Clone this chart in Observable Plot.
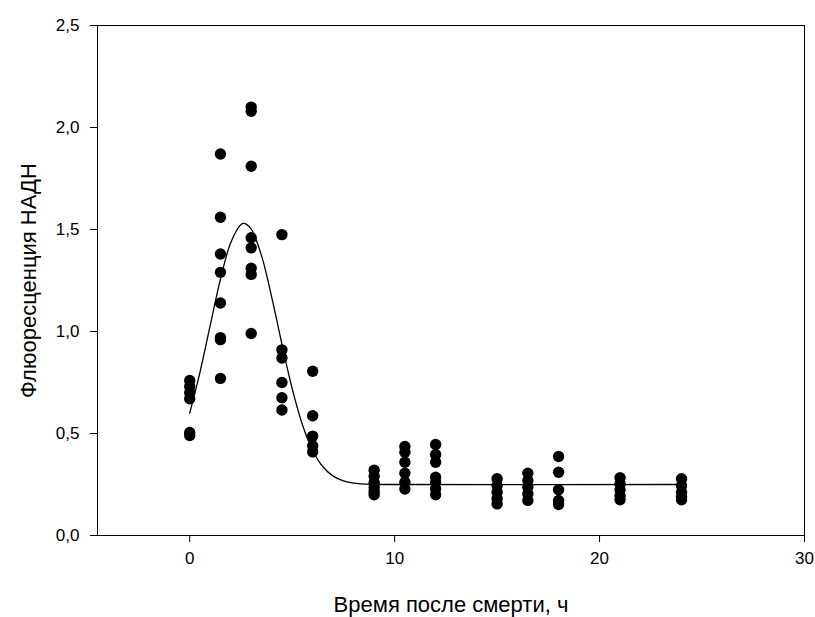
<!DOCTYPE html>
<html>
<head>
<meta charset="utf-8">
<script src="https://cdn.jsdelivr.net/npm/d3@7"></script>
<script src="https://cdn.jsdelivr.net/npm/@observablehq/plot@0.6"></script>
<style>
  html, body { margin: 0; padding: 0; background: #fff; }
  #chart { width: 815px; height: 617px; }
</style>
</head>
<body>
<div id="chart"></div>
<script>
// Measured points: time after death (h) and NADH fluorescence
const times = [0, 1.5, 3, 4.5, 6, 9, 10.5, 12, 15, 16.5, 18, 21, 24];
const values = [
  [0.76, 0.73, 0.70, 0.67, 0.505, 0.49],
  [1.87, 1.56, 1.38, 1.29, 1.14, 0.97, 0.96, 0.77],
  [2.10, 2.08, 1.81, 1.46, 1.41, 1.31, 1.28, 0.99],
  [1.475, 0.91, 0.87, 0.75, 0.675, 0.615],
  [0.805, 0.587, 0.487, 0.44, 0.41],
  [0.32, 0.29, 0.26, 0.235, 0.215, 0.20],
  [0.436, 0.408, 0.359, 0.305, 0.261, 0.228],
  [0.446, 0.397, 0.359, 0.286, 0.261, 0.229, 0.20],
  [0.278, 0.245, 0.212, 0.18, 0.155],
  [0.305, 0.27, 0.237, 0.204, 0.172],
  [0.387, 0.31, 0.224, 0.172, 0.152],
  [0.283, 0.253, 0.224, 0.195, 0.175],
  [0.278, 0.245, 0.212, 0.19, 0.175]
];

// Fitted curve
const curveX = [0, 0.5, 1, 1.5, 2, 2.5, 2.65, 3, 3.5, 4, 4.5, 5, 5.5, 6, 6.5, 7, 7.5, 8, 9, 10, 24];
const curveY = [0.60, 0.80, 1.03, 1.257, 1.435, 1.525, 1.53, 1.502, 1.373, 1.169, 0.938, 0.72, 0.543, 0.417, 0.337, 0.291, 0.268, 0.257, 0.251, 0.25, 0.25];

const xTicks = [0, 10, 20, 30];
const yTicks = [0, 0.5, 1.0, 1.5, 2.0, 2.5];
const xTitle = "Время после смерти, ч";
const yTitle = "Флюоресценция НАДН";

const points = times.flatMap((t, i) => values[i].map(v => ({t, v})));
const curve = curveX.map((x, i) => ({x, y: curveY[i]}));
const fmt = d => d.toFixed(1).replace(".", ",");

const chart = Plot.plot({
  width: 815,
  height: 617,
  marginLeft: 97,
  marginRight: 11,
  marginTop: 25,
  marginBottom: 82,
  style: {fontFamily: "'Liberation Sans', Arial, sans-serif", fontSize: "17px", color: "#000", background: "#fff"},
  x: {domain: [-4.5, 30]},
  y: {domain: [0, 2.5]},
  marks: [
    Plot.axisX({ticks: xTicks, tickSize: 7, tickPadding: 9, tickFormat: d => String(d), fontSize: 17, label: null}),
    Plot.axisY({ticks: yTicks, tickSize: 7, tickPadding: 11, tickFormat: fmt, fontSize: 17, label: null}),
    Plot.text([xTitle], {frameAnchor: "bottom", dy: 69, fontSize: 22, fill: "#000", textAnchor: "middle", lineAnchor: "middle"}),
    Plot.text([yTitle], {frameAnchor: "left", dx: -69, rotate: -90, fontSize: 22, fill: "#000", textAnchor: "middle", lineAnchor: "middle"}),
    Plot.line(curve, {x: "x", y: "y", stroke: "#000", strokeWidth: 1.3, curve: "catmull-rom"}),
    Plot.dot(points, {x: "t", y: "v", r: 5.7, fill: "#000", stroke: "none"}),
    Plot.frame({stroke: "#000", strokeWidth: 1})
  ]
});
// make sure tick labels use the intended size
d3.select(chart).selectAll('[aria-label="x-axis tick label"], [aria-label="y-axis tick label"]')
  .style("font-size", "17px")
  .selectAll("text").style("font-size", "17px");
document.getElementById("chart").appendChild(chart);
</script>
</body>
</html>
